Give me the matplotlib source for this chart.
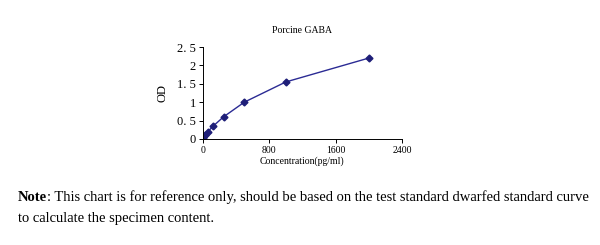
import matplotlib.pyplot as plt

conc = [0, 15.6, 31.25, 62.5, 125, 250, 500, 1000, 2000]
od = [0.02, 0.07, 0.12, 0.2, 0.35, 0.6, 1.0, 1.55, 2.2]
xticks = [0, 800, 1600, 2400]
yticks = [0, 0.5, 1, 1.5, 2, 2.5]
ylabels = ["0", "0. 5", "1", "1. 5", "2", "2. 5"]

plt.rcParams['font.family'] = ['Liberation Serif', 'DejaVu Serif']

fig = plt.figure(figsize=(6, 2.45), dpi=100)
ax = fig.add_axes([0.338, 0.433, 0.332, 0.375])
ax.plot(conc, od, color='#2B2B94', lw=1, marker='D', ms=3.5,
        mfc='#1E1E78', mec='#1E1E78')
ax.set_xlim(0, 2400)
ax.set_ylim(0, 2.5)
ax.set_xticks(xticks)
ax.set_xticklabels([str(t) for t in xticks], fontsize=7)
ax.set_yticks(yticks)
ax.set_yticklabels(ylabels, fontsize=9)
ax.tick_params(direction='out', length=3, width=0.7, pad=2)
for s in ['top', 'right']:
    ax.spines[s].set_visible(False)
for s in ['left', 'bottom']:
    ax.spines[s].set_linewidth(0.7)
ax.set_xlabel('Concentration(pg/ml)', fontsize=7, labelpad=1)
ax.set_ylabel('OD', fontsize=9, labelpad=6)
ax.set_title('Porcine GABA', fontsize=7, pad=10)

note = fig.text(0.03, 0.178, 'Note', fontsize=10.5, fontweight='bold')
fig.canvas.draw()
ext = note.get_window_extent()
fig.text((ext.x1) / fig.bbox.width, 0.178,
         ': This chart is for reference only, should be based on the test standard dwarfed standard curve',
         fontsize=10.5)
fig.text(0.03, 0.095, 'to calculate the specimen content.', fontsize=10.5)

fig.savefig('out.png')
